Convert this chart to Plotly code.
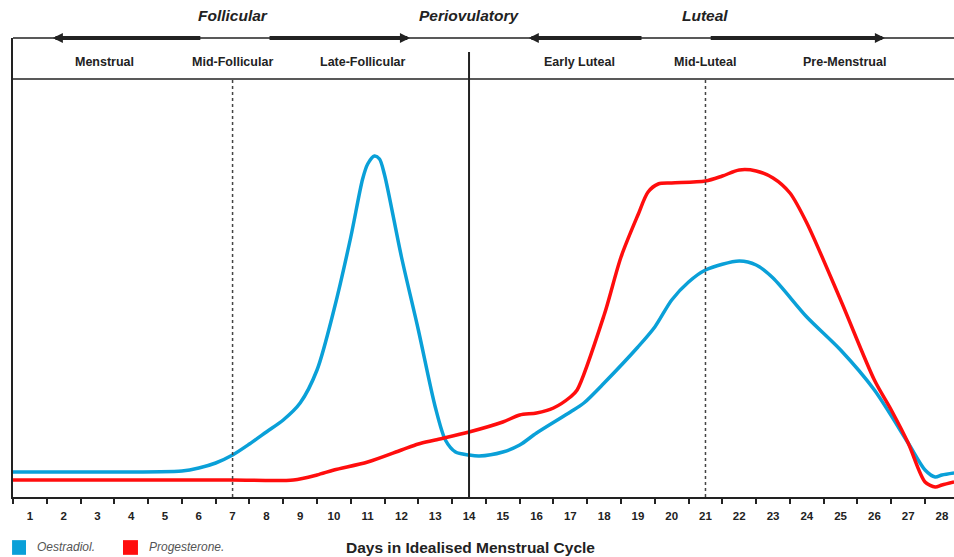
import plotly.graph_objects as go

# ---- data (relative hormone levels, arbitrary units) ----
days = list(range(1, 29))
day_labels = [str(d) for d in days]

oestradiol_day = [0.5, 3, 5.5, 6, 6.5, 7, 7.5, 8, 8.5, 9, 9.5, 10, 10.5, 10.85, 11, 11.2, 11.35, 11.5, 12, 12.5,
                  13, 13.3, 13.6, 14, 14.3, 15, 15.5, 16, 17, 17.4, 18, 19, 19.5, 20, 20.5, 21, 22, 22.5, 23,
                  24, 25, 26, 27, 27.5, 27.8, 28, 28.36]
oestradiol_val = [25, 25, 26, 29, 34, 42, 53, 65, 77, 94, 127, 187, 260, 318, 333, 341, 338, 322, 240, 167,
                  90, 57, 45, 42, 41, 45, 52, 64, 85, 94, 114, 150, 170, 197, 215, 227, 236, 232, 219,
                  180, 147, 107, 54, 27, 20, 22, 24]

progesterone_day = [0.5, 4, 7, 8.8, 9.5, 10, 11, 12, 12.5, 13, 14, 15, 15.5, 16, 16.5, 17, 17.2, 18, 18.5, 19,
                    19.3, 19.6, 20, 21, 21.5, 22, 22.5, 23, 23.5, 24, 25, 26, 26.5, 27, 27.5, 27.8, 28, 28.36]
progesterone_val = [17, 17, 17, 17, 22, 27, 35, 47, 53, 57, 65, 75, 82, 84, 89, 100, 107, 182, 240, 282,
                    305, 313, 314, 316, 321, 327, 326, 319, 304, 274, 197, 117, 87, 54, 15, 10, 12, 15]

phases = ["Follicular", "Periovulatory", "Luteal"]
phase_day = [7, 14, 21]
subphases = ["Menstrual", "Mid-Follicular", "Late-Follicular", "Early Luteal", "Mid-Luteal", "Pre-Menstrual"]
subphase_day = [3.22, 7, 10.86, 17.28, 21.01, 25.13]
arrow_segments = [(6.09, 1.68), (8.05, 12.25), (19.15, 15.77), (21.11, 26.31)]

BLUE = "#0aa0d8"
RED = "#ff0d0d"
INK = "#222222"
FONT = "Liberation Sans"

YMAX = 459
HEADER_Y = 418
XMIN, XMAX = 0.5, 28.357

fig = go.Figure()
fig.add_trace(go.Scatter(x=oestradiol_day, y=oestradiol_val, mode="lines", name="Oestradiol.",
                         line=dict(color=BLUE, width=3.5, shape="spline", smoothing=0.8),
                         showlegend=False))
fig.add_trace(go.Scatter(x=progesterone_day, y=progesterone_val, mode="lines", name="Progesterone.",
                         line=dict(color=RED, width=3.5, shape="spline", smoothing=0.8),
                         showlegend=False))
# dummy trace to draw the boundary tick axis
fig.add_trace(go.Scatter(x=[None], y=[None], xaxis="x2", showlegend=False, hoverinfo="skip"))

shapes = []
shapes.append(dict(type="line", xref="paper", yref="paper", x0=0, x1=1, y0=1, y1=1,
                   line=dict(color=INK, width=1.5)))
shapes.append(dict(type="line", xref="paper", yref="y", x0=0, x1=1, y0=HEADER_Y, y1=HEADER_Y,
                   line=dict(color=INK, width=1.5)))
shapes.append(dict(type="line", xref="x", yref="y", x0=7, x1=7, y0=0, y1=HEADER_Y,
                   line=dict(color="#444", width=1.5, dash="dot")))
shapes.append(dict(type="line", xref="x", yref="y", x0=14, x1=14, y0=0, y1=445,
                   line=dict(color=INK, width=2)))
shapes.append(dict(type="line", xref="x", yref="y", x0=21, x1=21, y0=0, y1=HEADER_Y,
                   line=dict(color="#444", width=1.5, dash="dot")))
shapes.append(dict(type="rect", xref="paper", yref="paper", x0=-0.001, x1=0.0138, y0=-0.126, y1=-0.094,
                   fillcolor=BLUE, line=dict(width=0)))
shapes.append(dict(type="rect", xref="paper", yref="paper", x0=0.1169, x1=0.1328, y0=-0.126, y1=-0.094,
                   fillcolor=RED, line=dict(width=0)))

annotations = []
for x0, x1 in arrow_segments:
    annotations.append(dict(x=x1, y=YMAX, ax=x0, ay=YMAX, xref="x", yref="y", axref="x", ayref="y",
                            showarrow=True, arrowhead=2, arrowsize=0.5, arrowwidth=4,
                            arrowcolor=INK, text=""))
for name, d in zip(phases, phase_day):
    annotations.append(dict(x=d, y=1.048, xref="x", yref="paper", yanchor="middle",
                            text="<b><i>" + name + "</i></b>",
                            showarrow=False, font=dict(family=FONT, size=15.5, color=INK)))
for name, d in zip(subphases, subphase_day):
    annotations.append(dict(x=d, y=0.9477, xref="x", yref="paper", yanchor="middle",
                            text="<b>" + name + "</b>",
                            showarrow=False, font=dict(family=FONT, size=12.5, color=INK)))
annotations.append(dict(x=0.0234, y=-0.109, xref="paper", yref="paper", xanchor="left", yanchor="middle",
                        text="<i>Oestradiol.</i>", showarrow=False,
                        font=dict(family=FONT, size=12, color="#555")))
annotations.append(dict(x=0.1424, y=-0.109, xref="paper", yref="paper", xanchor="left", yanchor="middle",
                        text="<i>Progesterone.</i>", showarrow=False,
                        font=dict(family=FONT, size=12, color="#555")))
annotations.append(dict(x=0.4857, y=-0.109, xref="paper", yref="paper", xanchor="center", yanchor="middle",
                        text="<b>Days in Idealised Menstrual Cycle</b>", showarrow=False,
                        font=dict(family=FONT, size=15.5, color=INK)))

boundaries = [d - 0.5 for d in days] + [days[-1] + 0.5]

fig.update_layout(
    width=954, height=557,
    margin=dict(l=13, r=0, t=38, b=60),
    paper_bgcolor="white", plot_bgcolor="white",
    font=dict(family=FONT, color=INK),
    xaxis=dict(range=[XMIN, XMAX], tickvals=days, ticktext=day_labels, ticks="outside",
               ticklen=7, tickcolor="rgba(0,0,0,0)", showgrid=False, zeroline=False,
               showline=True, linecolor=INK, linewidth=2,
               tickfont=dict(family=FONT, size=11.5, color=INK, weight="bold")),
    xaxis2=dict(range=[XMIN, XMAX], overlaying="x", anchor="y", side="bottom",
                tickvals=boundaries, ticks="outside", ticklen=6, tickwidth=2, tickcolor=INK,
                showticklabels=False, showgrid=False, zeroline=False, showline=False),
    yaxis=dict(range=[0, YMAX], showticklabels=False, ticks="", showgrid=False, zeroline=False,
               showline=True, linecolor=INK, linewidth=2),
    shapes=shapes,
    annotations=annotations,
)

fig.write_html("out.html", config={"displayModeBar": False},
               post_script="document.body.style.margin='0';document.body.style.overflow='hidden';")
